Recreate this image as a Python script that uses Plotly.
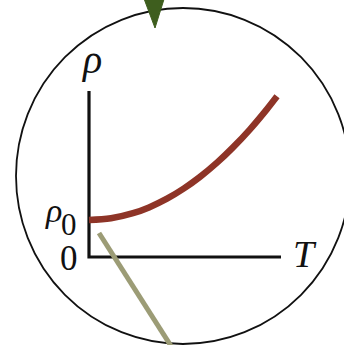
import plotly.graph_objects as go

# Diagram coordinates: origin at the graph's corner, 1 unit ~ 1 px
# resistivity curve rho(T): starts at rho0, rises roughly quadratically
curve_T = [0, 22, 44, 60, 78, 95, 111, 128, 144, 161, 178, 188]
curve_rho = [37, 38.7, 43.8, 49.6, 58.3, 68.6, 80.1, 94.3, 109.6, 127.7, 147.9, 160.7]

# axes of the inset graph
axis_x = [0, 0, 192]
axis_y = [166, 0, 0]

# pointer line (olive) leading out of the lens
pointer_x = [10, 89]
pointer_y = [24, -100]

# marker triangle at the top of the lens
tri_x = [54, 76, 66, 54]
tri_y = [261, 261, 229, 261]

# lens outline (circle)
circle_x0, circle_x1 = -73, 261
circle_y0, circle_y1 = -87, 249

labels = [
    dict(text="<i>ρ</i>", x=2, y=198, size=40),
    dict(text="<i>ρ</i>", x=-36, y=47, size=34),
    dict(text="0", x=-20, y=33, size=31),
    dict(text="0", x=-20, y=-1, size=35),
    dict(text="<i>T</i>", x=216, y=3, size=38),
]

fig = go.Figure()
fig.add_trace(go.Scatter(x=axis_x, y=axis_y, mode="lines",
                         line=dict(color="#111111", width=3.2), hoverinfo="skip"))
fig.add_trace(go.Scatter(x=curve_T, y=curve_rho, mode="lines",
                         line=dict(color="#8E3427", width=6.5, shape="spline"), hoverinfo="skip"))
fig.add_trace(go.Scatter(x=pointer_x, y=pointer_y, mode="lines",
                         line=dict(color="#9C9C76", width=5), hoverinfo="skip"))
fig.add_trace(go.Scatter(x=tri_x, y=tri_y, mode="lines", fill="toself",
                         fillcolor="#3E5E1E", line=dict(color="#3E5E1E", width=1), hoverinfo="skip"))

fig.add_shape(type="circle", xref="x", yref="y",
              x0=circle_x0, x1=circle_x1, y0=circle_y0, y1=circle_y1,
              line=dict(color="#111111", width=1.8), layer="below")

for lb in labels:
    fig.add_annotation(x=lb["x"], y=lb["y"], text=lb["text"], showarrow=False,
                       xanchor="center", yanchor="middle",
                       font=dict(family="Liberation Serif, Times New Roman, serif",
                                 size=lb["size"], color="#111111"))

fig.update_layout(
    width=344, height=345,
    margin=dict(l=0, r=0, t=0, b=0),
    paper_bgcolor="white", plot_bgcolor="white",
    showlegend=False,
    xaxis=dict(range=[-89, 255], visible=False, fixedrange=True),
    yaxis=dict(range=[-88, 257], visible=False, fixedrange=True),
)

fig.write_html("out.html", config={"displayModeBar": False},
               post_script="document.body.style.margin='0';document.body.style.overflow='hidden';")
